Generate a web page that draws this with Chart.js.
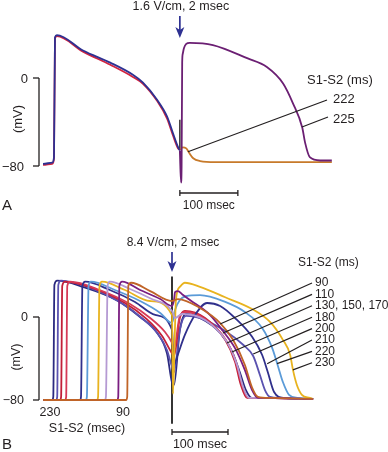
<!DOCTYPE html>
<html>
<head>
<meta charset="utf-8">
<script src="https://cdn.jsdelivr.net/npm/chart.js@4.4.1/dist/chart.umd.min.js"></script>
<style>
    html, body { margin: 0; padding: 0; background: #fff; }
    #wrap { position: relative; width: 388px; height: 452px; }
    canvas { position: absolute; left: 0; top: 0; }
</style>
</head>
<body>
<div id="wrap">
    <canvas id="panelA" width="388" height="452"></canvas>
    <canvas id="panelB" width="388" height="452"></canvas>
</div>
<script>
// ---- Panel A: time in ms from S1 upstroke, voltage in mV
const aS1Time = [-19, -3, 0, 1.7, 5, 50, 97, 136, 153, 178, 195, 205, 214, 217];
const aS1Blue = [-78, -77, -72, 37, 39, 25, 14, 3, -4, -20, -35, -50, -63, -66];
const aS1Red = [-79, -78, -73, 36, 38, 24, 12, 1, -5, -21, -37, -52, -64, -65];
const a225Time = [217, 219, 220, 221, 222, 224, 228, 234, 274, 333, 367, 395, 412, 428, 433, 441, 459, 479];
const a225Mv = [-66, -95, -80, 14, 22, 27, 31, 32, 30, 18, 10, -5, -23, -45, -59, -72, -75, -75];
const a222Time = [217, 222, 228, 233, 240, 252, 278, 479];
const a222Mv = [-65, -63, -64, -68, -73, -75.5, -76.4, -76.4];
const aLabels = ["222", "225"];

// ---- Panel B: time in ms from S2 shock, voltage in mV
const brownTime = [-230, -82, -80, -78, -73, -39, 0, 10.7, 50, 86, 109, 130, 143, 153.6, 175, 252];
const brownMv = [-80, -80, -77, 30, 33, 25, 15.4, 17.3, 8.7, -5.8, -22, -46, -68, -77, -78, -79];
const purpleTime = [-230, -98, -96, -94, -89, -57, -21, 0, 3.6, 5.4, 10.7, 18, 32, 68, 91, 112.5, 130, 143, 153.6, 175, 252];
const purpleMv = [-80, -80, -77, 30, 34, 26, 17.3, 10.6, 16.4, 24, 25, 22, 16.4, 1.9, -13.5, -30, -51, -70.4, -78, -78, -79];
const lavenderTime = [-230, -120, -118, -115, -111, -75, -39, 0, 5.4, 18, 59, 98, 116, 127, 137.5, 157, 252];
const lavenderMv = [-80, -80, -77, 30, 34, 27, 18, 5.8, -1, 2.9, -2.9, -24, -46, -67.5, -78, -78, -79];
const yellowTime = [-230, -134, -132, -129.5, -125, -84, -39, 0, 1.8, 7, 14, 23, 50, 95, 143, 175, 198, 211, 216, 223, 232, 246, 252];
const yellowMv = [-80, -80, -77, 30, 34, 26, 15.4, 1.9, -74, 16.4, 29, 33, 29, 19, 7.7, -4.8, -22, -36.6, -51, -65.5, -75, -78, -79];
const lightBlueTime = [-230, -154, -152, -149, -145, -102, -57, -21, 0, 5.4, 14, 25, 50, 95, 130, 161, 179, 189, 198, 209, 225, 252];
const lightBlueMv = [-80, -80, -77, 30, 34, 26, 15.4, 3.9, -5.8, 6.7, 16.4, 20, 21, 14.5, 4.8, -10.6, -30, -47, -62.7, -75, -78, -79];
const navy2Time = [-230, -164, -162.5, -160, -155, -111, -66, -30, 0, 3.6, 8.9, 23, 41, 62.5, 86, 112.5, 143, 161, 171, 182, 200, 252];
const navy2Mv = [-80, -80, -77, 30, 34, 26, 14.5, 2, -12.5, -46, -38.6, -17.3, 1.9, 13.5, 10.6, -1, -19, -36.6, -53, -72, -78, -79];
const crimsonTime = [-230, -191, -189, -187, -182, -129, -75, -39, -12.5, 0, 3.6, 14, 25, 59, 96, 114, 125, 136, 157, 252];
const crimsonMv = [-80, -80, -77, 30, 34, 26, 12.5, -1, -14.5, -25, -30, 1, 4.8, -2, -22, -43, -65.5, -78, -78, -79];
const redTime = [-230, -200, -198, -196, -191, -137.5, -84, -45, -18, 0, 3.6, 14, 23, 59, 95, 112.5, 123, 134, 157, 252];
const redMv = [-80, -80, -77, 30, 34, 27, 13.5, -2, -18, -35, -37.6, -1, 5.8, -1, -22, -43, -65.5, -78, -78, -79];
const violetTime = [-230, -207, -205, -203, -198, -146, -93, -54, -25, -9, 0, 3.6, 14, 25, 50, 95, 127.5, 145, 157, 166, 175, 193, 252];
const violetMv = [-80, -80, -77, 31, 35, 28, 14.5, -1, -16.4, -31.8, -48.2, -53, -12.5, 1, -1, -13.5, -27, -37.6, -55.9, -70.4, -77, -78, -79];
const navy1Time = [-230, -214, -212, -210, -205, -159, -98, -57, -27, -9, 0, 3.6, 14, 25, 50, 86, 107, 121, 132, 143, 161, 252];
const navy1Mv = [-80, -80, -77, 31, 35, 29, 16, 0, -15, -35, -63, -65.5, -12.5, 2.9, -1, -15.4, -32.8, -53, -70.4, -78, -78, -79];
const bLabels = ["90", "110", "130, 150, 170", "180", "200", "210", "220", "230"];

const ink = "#231f20";
const arrowBlue = "#2e3192";

function pts(t, v) {
    return t.map((tt, i) => ({ x: tt, y: v[i] }));
}
function font(size) {
    return size + 'px "Liberation Sans", Arial, sans-serif';
}
function line(ctx, x1, y1, x2, y2) {
    ctx.beginPath();
    ctx.moveTo(x1, y1);
    ctx.lineTo(x2, y2);
    ctx.stroke();
}
function text(ctx, str, x, y, align, size) {
    ctx.font = font(size);
    ctx.fillStyle = ink;
    ctx.textAlign = align;
    ctx.textBaseline = "middle";
    ctx.fillText(str, x, y);
}
function arrow(ctx, x, top, tip) {
    ctx.strokeStyle = arrowBlue;
    ctx.fillStyle = arrowBlue;
    ctx.lineWidth = 1.7;
    line(ctx, x, top, x, tip - 8);
    ctx.beginPath();
    ctx.moveTo(x - 4.5, tip - 11);
    ctx.lineTo(x, tip - 8);
    ctx.lineTo(x + 4.5, tip - 11);
    ctx.lineTo(x, tip);
    ctx.closePath();
    ctx.fill();
}
function mvBar(ctx, chart, barX) {
    const y = chart.scales.y;
    const y0 = y.getPixelForValue(0), y80 = y.getPixelForValue(-80);
    ctx.strokeStyle = ink;
    ctx.lineWidth = 1.3;
    line(ctx, barX, y0, barX, y80);
    line(ctx, barX - 6, y0, barX, y0);
    line(ctx, barX - 6, y80, barX, y80);
    return [y0, y80];
}
function msBar(ctx, chart, t0, yPix) {
    const x = chart.scales.x;
    const x1 = x.getPixelForValue(t0), x2 = x.getPixelForValue(t0 + 100);
    ctx.strokeStyle = ink;
    ctx.lineWidth = 1.3;
    line(ctx, x1, yPix, x2, yPix);
    line(ctx, x1, yPix - 3, x1, yPix + 3);
    line(ctx, x2, yPix - 3, x2, yPix + 3);
    return (x1 + x2) / 2;
}
function rotated(ctx, str, x, y, size) {
    ctx.save();
    ctx.translate(x, y);
    ctx.rotate(-Math.PI / 2);
    text(ctx, str, 0, 0, "center", size);
    ctx.restore();
}

function baseOptions(xmin, xmax, ymin, ymax) {
    return {
        responsive: false,
        animation: false,
        events: [],
        layout: { padding: 0 },
        plugins: { legend: { display: false }, tooltip: { enabled: false } },
        elements: {
            point: { radius: 0 },
            line: { borderWidth: 1.8, cubicInterpolationMode: "monotone" },
        },
        scales: {
            x: { type: "linear", min: xmin, max: xmax, display: false },
            y: { type: "linear", min: ymin, max: ymax, display: false },
        },
    };
}

const panelADecor = {
    id: "panelADecor",
    beforeDatasetsDraw(chart) {
        const ctx = chart.ctx, x = chart.scales.x, y = chart.scales.y;
        ctx.save();
        ctx.strokeStyle = ink;
        ctx.lineWidth = 1.4;
        const sx = x.getPixelForValue(217);
        line(ctx, sx, y.getPixelForValue(-38), sx, y.getPixelForValue(-65));
        ctx.restore();
    },
    afterDatasetsDraw(chart) {
        const ctx = chart.ctx, x = chart.scales.x, y = chart.scales.y;
        ctx.save();
        const sx = x.getPixelForValue(217);
        text(ctx, "1.6 V/cm, 2 msec", sx + 1, 7, "center", 12.5);
        arrow(ctx, sx, 16, 38);
        const [y0, y80] = mvBar(ctx, chart, 39);
        text(ctx, "0", 28, y0 + 1, "right", 13);
        text(ctx, "\u221280", 24, y80 + 1, "right", 13);
        rotated(ctx, "(mV)", 18, 119, 13);
        text(ctx, "S1-S2 (ms)", 307, 80, "left", 13);
        text(ctx, aLabels[0], 333, 99, "left", 13);
        text(ctx, aLabels[1], 333, 119, "left", 13);
        ctx.strokeStyle = ink;
        ctx.lineWidth = 1.2;
        line(ctx, 327, 100, x.getPixelForValue(231), y.getPixelForValue(-67));
        line(ctx, 328, 117, x.getPixelForValue(427.6), y.getPixelForValue(-44.5));
        const mid = msBar(ctx, chart, 217, 193);
        text(ctx, "100 msec", mid, 206, "center", 12);
        text(ctx, "A", 2, 206, "left", 15);
        ctx.restore();
    },
};

const bLeaderEnds = [[86, -6.7], [91, -15.4], [98, -25], [107, -33.7], [145, -35.7], [170, -45], [187.5, -45], [216, -51]];

const panelBDecor = {
    id: "panelBDecor",
    beforeDatasetsDraw(chart) {
        const ctx = chart.ctx, x = chart.scales.x, y = chart.scales.y;
        ctx.save();
        ctx.strokeStyle = "#111";
        ctx.lineWidth = 1.7;
        const sx = x.getPixelForValue(0);
        line(ctx, sx, y.getPixelForValue(39), sx, y.getPixelForValue(-103));
        ctx.restore();
    },
    afterDatasetsDraw(chart) {
        const ctx = chart.ctx, x = chart.scales.x, y = chart.scales.y;
        ctx.save();
        const sx = x.getPixelForValue(0);
        text(ctx, "8.4 V/cm, 2 msec", sx + 1, 243, "center", 12);
        arrow(ctx, sx, 252, 272);
        const [y0, y80] = mvBar(ctx, chart, 39);
        text(ctx, "0", 28, y0 + 1, "right", 12.5);
        text(ctx, "\u221280", 24, y80 + 1, "right", 12.5);
        rotated(ctx, "(mV)", 17, 357, 12.5);
        text(ctx, "230", 50, 413, "center", 12.5);
        text(ctx, "90", 123, 413, "center", 12.5);
        text(ctx, "S1-S2 (msec)", 87, 429, "center", 12.5);
        text(ctx, "S1-S2 (ms)", 298, 263, "left", 12);
        ctx.strokeStyle = ink;
        ctx.lineWidth = 1.2;
        bLabels.forEach((lab, i) => {
            const ly = 283 + i * 11.4;
            text(ctx, lab, 315, ly, "left", 12);
            const e = bLeaderEnds[i];
            line(ctx, 312, ly, x.getPixelForValue(e[0]), y.getPixelForValue(e[1]));
        });
        const mid = msBar(ctx, chart, 0, 432);
        text(ctx, "100 msec", mid, 445, "center", 12.5);
        text(ctx, "B", 2, 445, "left", 15);
        ctx.restore();
    },
};

new Chart(document.getElementById("panelA").getContext("2d"), {
    type: "line",
    data: {
        datasets: [
            { label: "225 S2", data: pts(a225Time, a225Mv), borderColor: "#6b1f73" },
            { label: "S1 blue", data: pts(aS1Time, aS1Blue), borderColor: "#2e3192" },
            { label: "S1 red", data: pts(aS1Time, aS1Red), borderColor: "#d2233f" },
            { label: "222 S2", data: pts(a222Time, a222Mv), borderColor: "#c77a2a" },
        ],
    },
    options: baseOptions(-93.1, 575.86, -340, 70.91),
    plugins: [panelADecor],
});

new Chart(document.getElementById("panelB").getContext("2d"), {
    type: "line",
    data: {
        datasets: [
            { label: "brown", data: pts(brownTime, brownMv), borderColor: "#c06428" },
            { label: "purple", data: pts(purpleTime, purpleMv), borderColor: "#7a1d80" },
            { label: "lavender", data: pts(lavenderTime, lavenderMv), borderColor: "#b59ad3" },
            { label: "yellow", data: pts(yellowTime, yellowMv), borderColor: "#e8b31f" },
            { label: "light blue", data: pts(lightBlueTime, lightBlueMv), borderColor: "#5b9bd8" },
            { label: "navy 2", data: pts(navy2Time, navy2Mv), borderColor: "#30308c" },
            { label: "crimson", data: pts(crimsonTime, crimsonMv), borderColor: "#d63a57" },
            { label: "red", data: pts(redTime, redMv), borderColor: "#c21f38" },
            { label: "violet", data: pts(violetTime, violetMv), borderColor: "#5a52b0" },
            { label: "navy 1", data: pts(navy1Time, navy1Mv), borderColor: "#2b2a80" },
        ],
    },
    options: baseOptions(-307.14, 385.71, -130.12, 305.54),
    plugins: [panelBDecor],
});
</script>
</body>
</html>
